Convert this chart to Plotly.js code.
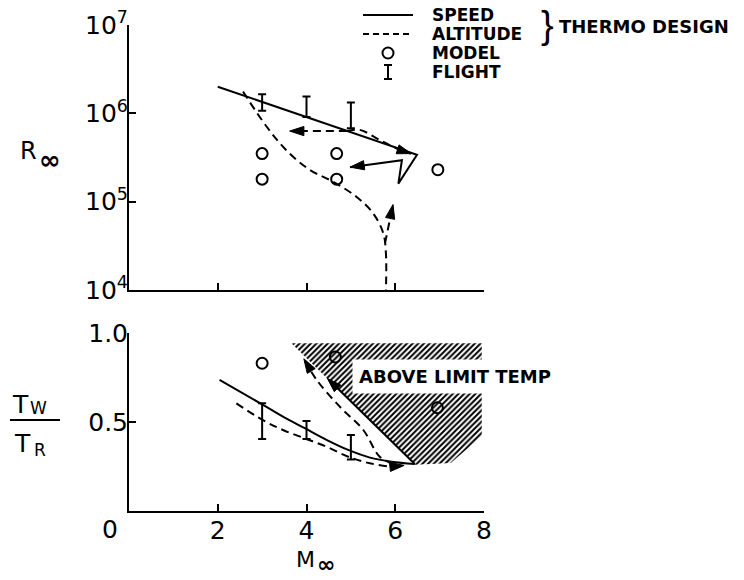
<!DOCTYPE html>
<html><head><meta charset="utf-8">
<script src="https://cdn.plot.ly/plotly-3.0.1.min.js"></script>
<style>html,body{margin:0;padding:0;background:#fff}#chart{width:744px;height:580px}</style>
</head><body><div id="chart"></div>
<script>
// ---------------- data ----------------
const xTicks = [2, 4, 6, 8];
const xTickLabels = ['2', '4', '6', '8'];
const rTicks = [1e4, 1e5, 1e6, 1e7];
const rTickLabels = ['10<sup>4</sup>', '10<sup>5</sup>', '10<sup>6</sup>', '10<sup>7</sup>'];
const tTicks = [0.5, 1.0];
const tTickLabels = ['0.5', '1.0'];

// top panel: Reynolds number vs Mach (speed path ends with a return arrow)
const speedTopM = [2.0, 6.49, 6.07, 6.15, 4.98];
const speedTopR = [2.0e6, 3.4e5, 1.6e5, 2.95e5, 2.46e5];

const altTopM = [2.57, 3.10, 3.55, 4.07, 4.6, 5.13, 5.5, 5.73, 5.79, 5.79];
const altTopR = [1.76e6, 7.1e5, 3.8e5, 2.3e5, 1.68e5, 1.13e5, 7.4e4, 4.4e4, 2.6e4, 1e4];
const altUpM = [5.77, 5.95];
const altUpR = [3.4e4, 9.3e4];
const altOutM = [4.91, 5.2, 5.65, 6.1, 6.36];
const altOutR = [6.3e5, 6.5e5, 5.0e5, 3.85e5, 3.5e5];
const altBackM = [4.91, 3.62];
const altBackR = [6.3e5, 6.3e5];

const modelTopM = [3.0, 3.0, 4.68, 4.68, 6.96];
const modelTopR = [3.5e5, 1.8e5, 3.5e5, 1.8e5, 2.3e5];
const flightM = [3, 4, 5];
const flightTopLo = [1.07e6, 9.1e5, 6.8e5];
const flightTopHi = [1.65e6, 1.55e6, 1.33e6];

// bottom panel: wall / recovery temperature vs Mach
const speedBotM = [2.04, 3.02, 3.47, 3.96, 4.45, 4.94, 5.43, 5.92, 6.44];
const speedBotT = [0.736, 0.596, 0.53, 0.465, 0.40, 0.343, 0.30, 0.277, 0.264];
const speedBotBackM = [6.44, 4.47];
const speedBotBackT = [0.264, 0.745];

const altBotM = [2.42, 3.02, 3.47, 3.96, 4.45, 4.94, 5.43, 5.92, 6.2];
const altBotT = [0.605, 0.51, 0.455, 0.408, 0.361, 0.305, 0.268, 0.249, 0.256];
const altBotBackM = [5.95, 5.65, 5.28, 4.75, 4.23, 3.94];
const altBotBackT = [0.265, 0.305, 0.455, 0.586, 0.736, 0.855];

const modelBotM = [3.0, 4.65, 6.95];
const modelBotT = [0.83, 0.865, 0.58];
const flightBotLo = [0.405, 0.405, 0.29];
const flightBotHi = [0.605, 0.505, 0.427];

const limitM = [3.66, 7.95, 7.95, 7.25, 6.44, 3.66];
const limitT = [0.942, 0.942, 0.42, 0.27, 0.26, 0.942];

// ---------------- build ----------------
const K = 'black';
const DASH = '8px,5px';
function mid(lo, hi) { return lo.map((v, i) => (v + hi[i]) / 2); }
function errBar(xs, lo, hi, xa, ya) {
  const c = mid(lo, hi);
  return {x: xs, y: c, xaxis: xa, yaxis: ya, mode: 'markers', showlegend: false, hoverinfo: 'skip',
    marker: {size: 1, color: 'rgba(0,0,0,0)'},
    error_y: {type: 'data', symmetric: false, array: hi.map((v, i) => v - c[i]),
      arrayminus: lo.map((v, i) => c[i] - v), color: K, thickness: 2, width: 4}};
}
// path with optional arrowhead at its last point (marker oriented along the last segment)
function path(xs, ys, xa, ya, dash, spline, arrow) {
  const t = {x: xs, y: ys, xaxis: xa, yaxis: ya, mode: arrow ? 'lines+markers' : 'lines',
    showlegend: false, hoverinfo: 'skip',
    line: {color: K, width: 2, dash: dash || 'solid', shape: spline ? 'spline' : 'linear'}};
  if (arrow) {
    t.marker = {symbol: xs.map((_, i) => i === xs.length - 1 ? 'arrow' : 'circle'),
      size: xs.map((_, i) => i === xs.length - 1 ? 15 : 0), angleref: 'previous',
      opacity: 1, color: K, line: {width: 1, color: K}};
  }
  return t;
}
function circles(xs, ys, xa, ya) {
  return {x: xs, y: ys, xaxis: xa, yaxis: ya, mode: 'markers', showlegend: false, hoverinfo: 'skip',
    marker: {symbol: 'circle-open', size: 11, color: K, line: {width: 2, color: K}}};
}

const traces = [
  {x: limitM, y: limitT, xaxis: 'x2', yaxis: 'y2', mode: 'lines', fill: 'toself', showlegend: false,
   hoverinfo: 'skip', line: {width: 0, color: 'rgba(0,0,0,0)'}, fillcolor: 'rgba(0,0,0,0)',
   fillpattern: {shape: '/', size: 4, solidity: 0.5, fgcolor: K, bgcolor: 'white', fillmode: 'replace'}},
  // top
  path(speedTopM, speedTopR, 'x', 'y', 'solid', false, true),
  path(altTopM, altTopR, 'x', 'y', DASH, true, false),
  path(altUpM, altUpR, 'x', 'y', DASH, false, true),
  path(altOutM, altOutR, 'x', 'y', DASH, true, true),
  path(altBackM, altBackR, 'x', 'y', DASH, false, true),
  circles(modelTopM, modelTopR, 'x', 'y'),
  errBar(flightM, flightTopLo, flightTopHi, 'x', 'y'),
  // bottom
  path(speedBotM, speedBotT, 'x2', 'y2', 'solid', true, false),
  path(speedBotBackM, speedBotBackT, 'x2', 'y2', 'solid', false, true),
  path(altBotM, altBotT, 'x2', 'y2', DASH, true, true),
  path(altBotBackM, altBotBackT, 'x2', 'y2', DASH, true, true),
  circles(modelBotM, modelBotT, 'x2', 'y2'),
  errBar(flightM, flightBotLo, flightBotHi, 'x2', 'y2')
];

const FONT = 'DejaVu Sans, Liberation Sans, sans-serif';
function axisBase(sz) {
  return {showline: true, linewidth: 2, linecolor: K, ticks: 'inside', ticklen: 7, tickwidth: 2,
    tickcolor: K, showgrid: false, zeroline: false, fixedrange: true,
    tickfont: {family: FONT, size: sz, color: K}};
}
const xaxis = Object.assign(axisBase(25), {domain: [0, 1], anchor: 'y', range: [0, 8],
  tickmode: 'array', tickvals: xTicks, showticklabels: false});
const yaxis = Object.assign(axisBase(25), {domain: [0.4547, 1], anchor: 'x', type: 'log', range: [4, 7],
  tickmode: 'array', tickvals: rTicks, ticktext: rTickLabels, ticklabelstandoff: -6});
const xaxis2 = Object.assign(axisBase(25), {domain: [0, 1], anchor: 'y2', range: [0, 8],
  tickmode: 'array', tickvals: xTicks, ticktext: xTickLabels, ticklabelstandoff: -4});
const yaxis2 = Object.assign(axisBase(25), {domain: [0, 0.3663], anchor: 'x2', range: [0, 1],
  tickmode: 'array', tickvals: tTicks, ticktext: tTickLabels, ticklabelstandoff: -6});

function px2paperX(px) { return (px - 129) / 355; }
function px2paperY(py) { return (511 - py) / 486; }
function txt(text, px, py, size, opts) {
  return Object.assign({text: text, x: px2paperX(px), y: px2paperY(py), xref: 'paper', yref: 'paper',
    showarrow: false, font: {family: FONT, size: size, color: K}, xanchor: 'center', yanchor: 'middle'},
    opts || {});
}
const annotations = [
  {text: '<b>ABOVE LIMIT TEMP</b>', x: 5.02, y: 0.753, xref: 'x2', yref: 'y2', showarrow: false,
   xanchor: 'left', yanchor: 'middle', bgcolor: 'white', borderpad: 6,
   font: {family: FONT, size: 18, color: K}},
  // axis titles
  txt('R', 28, 151, 24),
  txt('<b>∞</b>', 50, 160, 26),
  txt('T', 20, 404, 25),
  txt('W', 38, 408, 17),
  txt('T', 22, 443, 25),
  txt('R', 40, 450, 17),
  txt('M', 305, 559, 22),
  txt('<b>∞</b>', 326, 564, 22),
  txt('0', 110, 529, 25),
  // legend text
  txt('<b>SPEED</b>', 430, 15, 17, {xanchor: 'left'}),
  txt('<b>ALTITUDE</b>', 430, 34, 17, {xanchor: 'left'}),
  txt('<b>MODEL</b>', 430, 53, 17, {xanchor: 'left'}),
  txt('<b>FLIGHT</b>', 430, 72, 17, {xanchor: 'left'}),
  txt('}', 547, 25, 36, {font: {family: 'Liberation Sans, sans-serif', size: 38, color: K}}),
  txt('<b>THERMO DESIGN</b>', 557, 27, 18, {xanchor: 'left'})
];

const shapes = [
  // fraction bar of Tw/TR
  {type: 'line', xref: 'paper', yref: 'paper', x0: px2paperX(10), x1: px2paperX(60),
   y0: px2paperY(420), y1: px2paperY(420), line: {color: K, width: 2}},
  // legend keys
  {type: 'line', xref: 'paper', yref: 'paper', x0: px2paperX(363), x1: px2paperX(413),
   y0: px2paperY(15), y1: px2paperY(15), line: {color: K, width: 2}},
  {type: 'line', xref: 'paper', yref: 'paper', x0: px2paperX(363), x1: px2paperX(413),
   y0: px2paperY(34), y1: px2paperY(34), line: {color: K, width: 2, dash: '6px,4px'}},
  {type: 'circle', xref: 'paper', yref: 'paper', xsizemode: 'pixel', ysizemode: 'pixel',
   xanchor: px2paperX(388), yanchor: px2paperY(53), x0: -5.5, x1: 5.5, y0: -5.5, y1: 5.5,
   line: {color: K, width: 2}},
  {type: 'line', xref: 'paper', yref: 'paper', x0: px2paperX(388), x1: px2paperX(388),
   y0: px2paperY(65), y1: px2paperY(79), line: {color: K, width: 2}},
  {type: 'line', xref: 'paper', yref: 'paper', xsizemode: 'pixel', xanchor: px2paperX(388), x0: -4, x1: 4,
   y0: px2paperY(65), y1: px2paperY(65), line: {color: K, width: 2}},
  {type: 'line', xref: 'paper', yref: 'paper', xsizemode: 'pixel', xanchor: px2paperX(388), x0: -4, x1: 4,
   y0: px2paperY(79), y1: px2paperY(79), line: {color: K, width: 2}}
];

const layout = {
  width: 744, height: 580,
  margin: {l: 129, r: 260, t: 25, b: 69},
  paper_bgcolor: 'white', plot_bgcolor: 'white',
  font: {family: FONT, color: K},
  showlegend: false,
  xaxis: xaxis, yaxis: yaxis, xaxis2: xaxis2, yaxis2: yaxis2,
  annotations: annotations, shapes: shapes
};
Plotly.newPlot('chart', traces, layout, {displayModeBar: false, staticPlot: true});
</script></body></html>
